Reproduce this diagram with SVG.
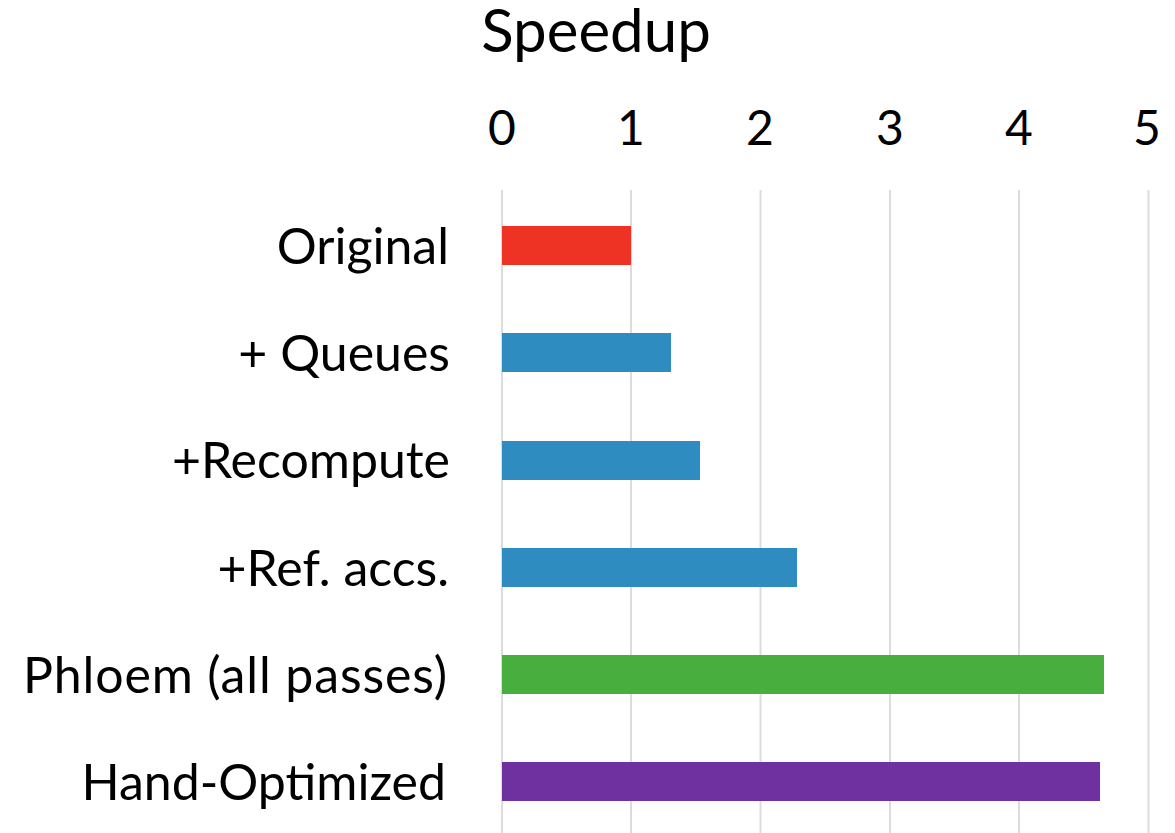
<svg xmlns="http://www.w3.org/2000/svg" width="1175" height="833" viewBox="0 0 1175 833">
  <style>
    text { font-family: "Lato", "Liberation Sans", sans-serif; fill: #000; }
    .title { font-size: 60px; text-anchor: middle; }
    .tick { font-size: 48px; text-anchor: middle; }
    .cat { font-size: 50px; text-anchor: end; }
    .grid { stroke: #dcdcdc; stroke-width: 2; }
  </style>
  <rect width="1175" height="833" fill="#fff"/>

  <!-- axis title and tick labels -->
  <g id="axis">
    <text class="title" x="596" y="52">Speedup</text>
    <text class="tick" x="502" y="145">0</text>
    <text class="tick" x="631" y="145">1</text>
    <text class="tick" x="760" y="145">2</text>
    <text class="tick" x="890" y="145">3</text>
    <text class="tick" x="1019" y="145">4</text>
    <text class="tick" x="1147" y="145">5</text>
  </g>

  <!-- vertical grid lines, one per unit of speedup -->
  <g id="grid">
    <line class="grid" x1="502" y1="190" x2="502" y2="833"/>
    <line class="grid" x1="631" y1="190" x2="631" y2="833"/>
    <line class="grid" x1="760.5" y1="190" x2="760.5" y2="833"/>
    <line class="grid" x1="890" y1="190" x2="890" y2="833"/>
    <line class="grid" x1="1019" y1="190" x2="1019" y2="833"/>
    <line class="grid" x1="1148.5" y1="190" x2="1148.5" y2="833"/>
  </g>

  <!-- bars: x = 502 + 129.3 * speedup -->
  <g id="bar-original">
    <text class="cat" x="449" y="264">Original</text>
    <rect x="502" y="226" width="129" height="39" fill="#ee3224"/>
  </g>
  <g id="bar-queues">
    <text class="cat" x="450" y="371">+ Queues</text>
    <rect x="502" y="333" width="169" height="39" fill="#2e8cc1"/>
  </g>
  <g id="bar-recompute">
    <text class="cat" x="450" y="478">+Recompute</text>
    <rect x="502" y="441" width="198" height="39" fill="#2e8cc1"/>
  </g>
  <g id="bar-refaccs">
    <text class="cat" x="449" y="586">+Ref. accs.</text>
    <rect x="502" y="548" width="295" height="39" fill="#2e8cc1"/>
  </g>
  <g id="bar-phloem">
    <text class="cat" x="447" y="693" textLength="424" lengthAdjust="spacing">Phloem (all passes)</text>
    <rect x="502" y="655" width="602" height="39" fill="#48af3e"/>
  </g>
  <g id="bar-hand">
    <text class="cat" x="446" y="800">Hand-Optimized</text>
    <rect x="502" y="762" width="598" height="39" fill="#6f30a0"/>
  </g>
</svg>
